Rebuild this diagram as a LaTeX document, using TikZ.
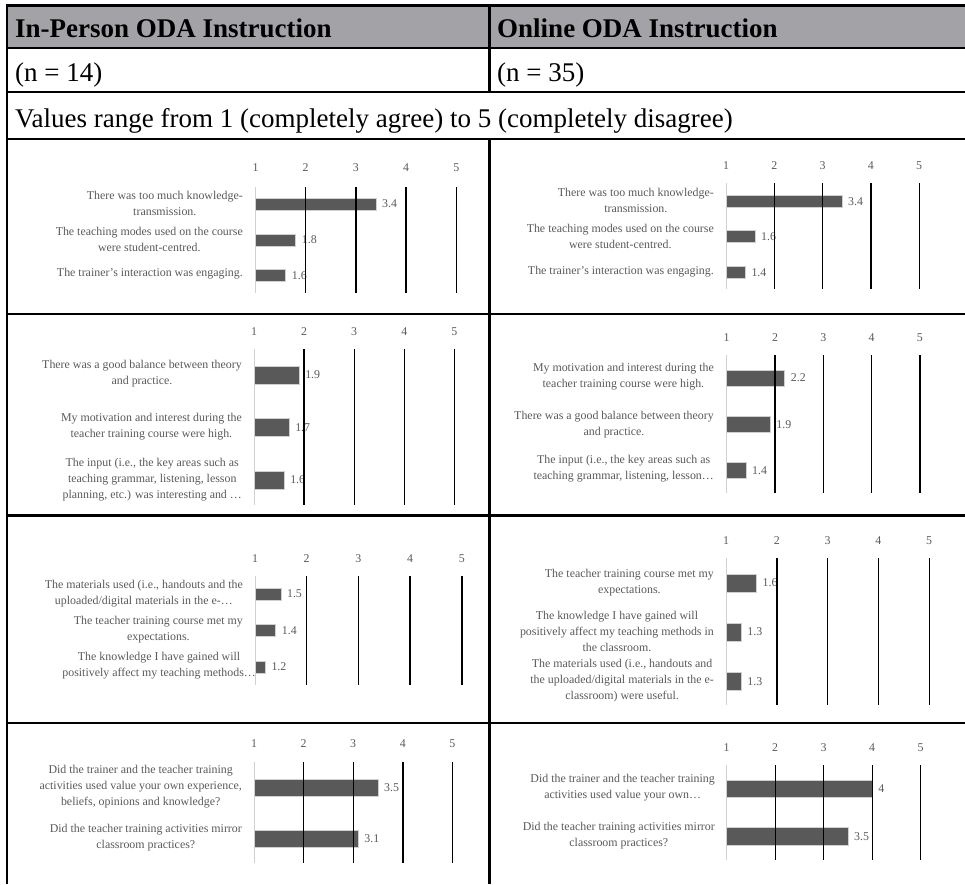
\documentclass[tikz,border=0pt]{standalone}
\usepackage{fontspec}
\setmainfont{Liberation Serif}
\usetikzlibrary{positioning}
\definecolor{odahead}{HTML}{A3A3A7}
\definecolor{odabar}{HTML}{595959}
\definecolor{odatext}{HTML}{595959}
\definecolor{odaaxis}{HTML}{D0D0D0}

\begin{document}
\begin{tikzpicture}[
  x=1pt, y=-1pt,
  every node/.style={font=\fontsize{11.9}{16}\selectfont, text=odatext, inner sep=0pt},
  lbl/.style={align=center, anchor=east},
  tickno/.style={anchor=center},
  valno/.style={right=6pt},
  barbox/.style={fill=odabar, draw=odaaxis, line width=0.5pt},
  gridln/.style={line width=1.4pt, black},
  axisln/.style={line width=0.9pt, odaaxis},
  tblrule/.style={line width=2.4pt, black},
  headtxt/.style={font=\fontsize{27}{32}\selectfont\bfseries, text=black, anchor=base west},
  rowtxt/.style={font=\fontsize{27}{32}\selectfont, text=black, anchor=base west},
]
\useasboundingbox (0,0) rectangle (965,884);

% Table frame
\fill[odahead] (7,5.5) rectangle (965,48);
\foreach \r in {5.5,48,92,139,314,515.5,723}
  \draw[tblrule] (7,\r) -- (965,\r);
\draw[tblrule] (7,4.3) -- (7,884);
\draw[tblrule] (489.3,4.3) -- (489.3,92);
\draw[tblrule] (489.3,139) -- (489.3,884);

\node[headtxt] (hdr-ip) at (15,37) {In-Person ODA Instruction};
\node[headtxt] (hdr-on) at (497,37) {Online ODA Instruction};
\node[rowtxt] (n-ip) at (15,81) {(n = 14)};
\node[rowtxt] (n-on) at (497,81) {(n = 35)};
\node[rowtxt] (scale) at (15,127) {Values range from 1 (completely agree) to 5 (completely disagree)};

% In-person, block 1
\def\xo{255.5}\def\du{50.2}
\foreach \t in {1,...,5}
  \node[tickno] (ip1-t\t) at ({\xo+(\t-1)*\du},168) {\t};
\foreach \v/\y [count=\i] in {3.4/204,1.8/240,1.6/275.5} {
  \draw[barbox] (\xo,\y-6.2) rectangle ({\xo+(\v-1)*\du},\y+6.2);
  \node[valno] (ip1-v\i) at ({\xo+(\v-1)*\du},\y) {\v};
}
\draw[axisln] (\xo,187) -- (\xo,293);
\foreach \t in {2,...,5}
  \draw[gridln] ({\xo+(\t-1)*\du},187) -- ({\xo+(\t-1)*\du},293);
\node[lbl] (ip1-l1) at (243,203) {There was too much knowledge-\\transmission.};
\node[lbl] (ip1-l2) at (243,239) {The teaching modes used on the course\\were student-centred.};
\node[lbl] (ip1-l3) at (243,274) {The trainer's interaction was engaging.};

% Online, block 1
\def\xo{726}\def\du{48.3}
\foreach \t in {1,...,5}
  \node[tickno] (on1-t\t) at ({\xo+(\t-1)*\du},166) {\t};
\foreach \v/\y [count=\i] in {3.4/201.7,1.6/236.7,1.4/272.3} {
  \draw[barbox] (\xo,\y-6) rectangle ({\xo+(\v-1)*\du},\y+6);
  \node[valno] (on1-v\i) at ({\xo+(\v-1)*\du},\y) {\v};
}
\draw[axisln] (\xo,183) -- (\xo,289);
\foreach \t in {2,...,5}
  \draw[gridln] ({\xo+(\t-1)*\du},183) -- ({\xo+(\t-1)*\du},289);
\node[lbl] (on1-l1) at (714,200.7) {There was too much knowledge-\\transmission.};
\node[lbl] (on1-l2) at (714,236) {The teaching modes used on the course\\were student-centred.};
\node[lbl] (on1-l3) at (714,271.7) {The trainer's interaction was engaging.};

% In-person, block 2
\def\xo{254}\def\du{50.1}
\foreach \t in {1,...,5}
  \node[tickno] (ip2-t\t) at ({\xo+(\t-1)*\du},331.7) {\t};
\foreach \v/\y [count=\i] in {1.9/375,1.7/427.5,1.6/480} {
  \draw[barbox] (\xo,\y-9) rectangle ({\xo+(\v-1)*\du},\y+9);
  \node[valno] (ip2-v\i) at ({\xo+(\v-1)*\du},\y) {\v};
}
\draw[axisln] (\xo,349) -- (\xo,505);
\foreach \t in {2,...,5}
  \draw[gridln] ({\xo+(\t-1)*\du},349) -- ({\xo+(\t-1)*\du},505);
\node[lbl] (ip2-l1) at (242,374) {There was a good balance between theory\\and practice.};
\node[lbl] (ip2-l2) at (242,427) {My motivation and interest during the\\teacher training course were high.};
\node[lbl] (ip2-l3) at (242,479.5) {The input (i.e., the key areas such as\\teaching grammar, listening, lesson\\planning, etc.) was interesting and …};

% Online, block 2
\def\xo{726.7}\def\du{48.3}
\foreach \t in {1,...,5}
  \node[tickno] (on2-t\t) at ({\xo+(\t-1)*\du},337.7) {\t};
\foreach \v/\y [count=\i] in {2.2/378,1.9/424.7,1.4/470.7} {
  \draw[barbox] (\xo,\y-8) rectangle ({\xo+(\v-1)*\du},\y+8);
  \node[valno] (on2-v\i) at ({\xo+(\v-1)*\du},\y) {\v};
}
\draw[axisln] (\xo,355) -- (\xo,493.3);
\foreach \t in {2,...,5}
  \draw[gridln] ({\xo+(\t-1)*\du},355) -- ({\xo+(\t-1)*\du},493.3);
\node[lbl] (on2-l1) at (714,377) {My motivation and interest during the\\teacher training course were high.};
\node[lbl] (on2-l2) at (714,424.5) {There was a good balance between theory\\and practice.};
\node[lbl] (on2-l3) at (714,469) {The input (i.e., the key areas such as\\teaching grammar, listening, lesson…};

% In-person, block 3
\def\xo{255}\def\du{51.7}
\foreach \t in {1,...,5}
  \node[tickno] (ip3-t\t) at ({\xo+(\t-1)*\du},558.3) {\t};
\foreach \v/\y [count=\i] in {1.5/594,1.4/630.5,1.2/667} {
  \draw[barbox] (\xo,\y-6.2) rectangle ({\xo+(\v-1)*\du},\y+6.2);
  \node[valno] (ip3-v\i) at ({\xo+(\v-1)*\du},\y) {\v};
}
\draw[axisln] (\xo,576) -- (\xo,685);
\foreach \t in {2,...,5}
  \draw[gridln] ({\xo+(\t-1)*\du},576) -- ({\xo+(\t-1)*\du},685);
\node[lbl] (ip3-l1) at (243,593.5) {The materials used (i.e., handouts and the\\uploaded/digital materials in the e-…};
\node[lbl] (ip3-l2) at (243,629.5) {The teacher training course met my\\expectations.};
\node[lbl] (ip3-l3) at (256,666) {The knowledge I have gained will\\positively affect my teaching methods…};

% Online, block 3
\def\xo{726}\def\du{50.8}
\foreach \t in {1,...,5}
  \node[tickno] (on3-t\t) at ({\xo+(\t-1)*\du},540.7) {\t};
\foreach \v/\y [count=\i] in {1.6/583,1.3/632,1.3/681.3} {
  \draw[barbox] (\xo,\y-8.8) rectangle ({\xo+(\v-1)*\du},\y+8.8);
  \node[valno] (on3-v\i) at ({\xo+(\v-1)*\du},\y) {\v};
}
\draw[axisln] (\xo,558.3) -- (\xo,705);
\foreach \t in {2,...,5}
  \draw[gridln] ({\xo+(\t-1)*\du},558.3) -- ({\xo+(\t-1)*\du},705);
\node[lbl] (on3-l1) at (714,583) {The teacher training course met my\\expectations.};
\node[lbl] (on3-l2) at (714,631.7) {The knowledge I have gained will\\positively affect my teaching methods in\\the classroom.};
\node[lbl] (on3-l3) at (714,681) {The materials used (i.e., handouts and\\the uploaded/digital materials in the e-\\classroom) were useful.};

% In-person, block 4
\def\xo{254}\def\du{49.6}
\foreach \t in {1,...,5}
  \node[tickno] (ip4-t\t) at ({\xo+(\t-1)*\du},744) {\t};
\foreach \v/\y [count=\i] in {3.5/787.8,3.1/838.7} {
  \draw[barbox] (\xo,\y-8.8) rectangle ({\xo+(\v-1)*\du},\y+8.8);
  \node[valno] (ip4-v\i) at ({\xo+(\v-1)*\du},\y) {\v};
}
\draw[axisln] (\xo,761.7) -- (\xo,863.3);
\foreach \t in {2,...,5}
  \draw[gridln] ({\xo+(\t-1)*\du},761.7) -- ({\xo+(\t-1)*\du},863.3);
\node[lbl] (ip4-l1) at (242,787) {Did the trainer and the teacher training\\activities used value your own experience,\\beliefs, opinions and knowledge?};
\node[lbl] (ip4-l2) at (242,838) {Did the teacher training activities mirror\\classroom practices?};

% Online, block 4
\def\xo{726.7}\def\du{48.5}
\foreach \t in {1,...,5}
  \node[tickno] (on4-t\t) at ({\xo+(\t-1)*\du},747.3) {\t};
\foreach \v/\y [count=\i] in {4/788.7,3.5/836.3} {
  \draw[barbox] (\xo,\y-8.7) rectangle ({\xo+(\v-1)*\du},\y+8.7);
  \node[valno] (on4-v\i) at ({\xo+(\v-1)*\du},\y) {\v};
}
\draw[axisln] (\xo,765) -- (\xo,860);
\foreach \t in {2,...,5}
  \draw[gridln] ({\xo+(\t-1)*\du},765) -- ({\xo+(\t-1)*\du},860);
\node[lbl] (on4-l1) at (715,788) {Did the trainer and the teacher training\\activities used value your own…};
\node[lbl] (on4-l2) at (715,836) {Did the teacher training activities mirror\\classroom practices?};
\end{tikzpicture}
\end{document}
